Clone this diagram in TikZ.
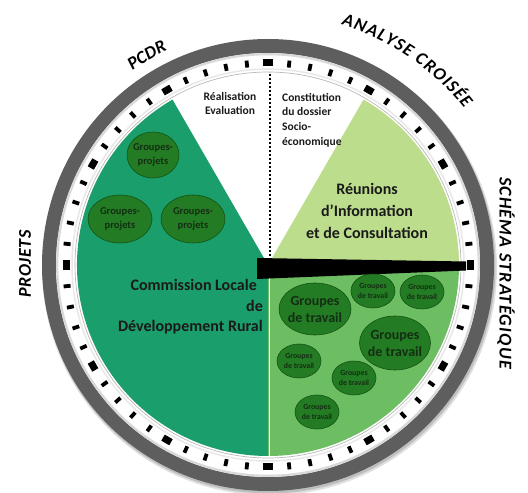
\documentclass[tikz,border=0pt]{standalone}
\usepackage{fontspec}
\setmainfont{Carlito}
\usetikzlibrary{shapes.geometric,decorations.text}
\definecolor{ringgray}{HTML}{5E5E5E}
\definecolor{dgreen}{HTML}{1A9E6B}
\definecolor{mgreen}{HTML}{6DBE62}
\definecolor{lgreen}{HTML}{BCDD8C}
\definecolor{egreen}{HTML}{237B23}
\definecolor{eedge}{HTML}{145214}
\definecolor{etext}{HTML}{142E14}
\definecolor{labtext}{HTML}{1A1A1A}
\begin{document}
\begin{tikzpicture}[x=1pt,y=1pt,
  outerlabel/.style={font=\fontsize{18}{20}\selectfont\bfseries\itshape, inner sep=0, text=black},
  innerlabel/.style={inner sep=0, text=labtext},
  blob/.style={ellipse, draw=eedge, line width=0.6, fill=egreen, inner sep=0},
  blobtext/.style={inner sep=0, align=center, text=etext},
  gptext/.style={blobtext, font=\fontsize{10.5}{14}\selectfont\bfseries},
  bigtext/.style={blobtext, font=\fontsize{14}{17}\selectfont\bfseries},
  smalltext/.style={blobtext, font=\fontsize{7.8}{10}\selectfont\bfseries},
  smallblob/.style={blob, minimum width=44, minimum height=34}
]
\useasboundingbox (0,0) rectangle (528,493);
\fill[white] (0,0) rectangle (528,493);
\coordinate (C) at (268,228);
% shadow and outer ring
\fill[black, opacity=0.12] (269.5,225) circle (227.5);
\fill[black, opacity=0.15] (269,226) circle (226.5);
\fill[ringgray] (C) circle (226);
\fill[white] (C) circle (212);
\draw[gray!30, line width=2.2] (C) circle (210.8);
\draw[gray!18, line width=1.5] (C) circle (196);
% ticks
\foreach \a in {0,30,...,330}{
  \fill[black, shift={(C)}, rotate=\a] (198.5,-4.6) rectangle (205.5,4.6);
  \foreach \b in {6,12,18,24}{
    \fill[black, shift={(C)}, rotate=\a+\b] (198.5,-1.9) rectangle (205.5,1.9);
  }
}
% sectors
\fill[dgreen, shift={(C)}] (0,0) -- (120:191) arc[start angle=120, end angle=270, radius=191] -- cycle;
\fill[mgreen, shift={(C)}] (0,0) -- (270:191) arc[start angle=270, end angle=360, radius=191] -- cycle;
\fill[lgreen, shift={(C)}] (0,0) -- (0:191) arc[start angle=0, end angle=60, radius=191] -- cycle;
\draw[gray!55, line width=0.7] (C) circle (193);
% separators
\coordinate (dotTop) at (270,421);
\coordinate (dotBot) at (270,229);
\draw[black, line width=1.6, dash pattern=on 1.8pt off 2.2pt] (dotBot) -- (dotTop);
\coordinate (sepTop) at (269.5,220);
\coordinate (sepBot) at (269.5,37);
\draw[white, line width=1.8] (sepTop) -- (sepBot);
% hand
\fill[black] (257,235) -- (466,231.5) -- (466,222.5) -- (257,214) -- cycle;
% outer labels
\path[shift={(C)}, decorate, decoration={text along path, text align=center,
  text={|\fontsize{18}{20}\selectfont\bfseries\itshape|PCDR}}]
  (127:237) arc[start angle=127, end angle=113, radius=237];
\path[shift={(C)}, decorate, decoration={text along path, text align=fit to path,
  text={|\fontsize{18}{20}\selectfont\bfseries\itshape|ANALYSE CROISÉE}}]
  (73:251) arc[start angle=73, end angle=38.5, radius=251];
\node[outerlabel, rotate=-90] (schema) at (506,220) {\addfontfeature{LetterSpace=7}SCHÉMA STRATÉGIQUE};
\node[outerlabel, rotate=90] (projets) at (25,229) {\addfontfeature{LetterSpace=4}PROJETS};
% inner labels
\node[innerlabel, font=\fontsize{11.5}{14}\selectfont\bfseries, align=center] (real) at (230,389) {Réalisation\\Evaluation};
\node[innerlabel, anchor=west, font=\fontsize{11.5}{14.7}\selectfont\bfseries, align=left] (const) at (282,373) {Constitution\\du dossier\\Socio-\\économique};
\node[innerlabel, font=\fontsize{16}{22}\selectfont\bfseries, align=center] (reunions) at (367,282) {Réunions\\d'Information\\et de Consultation};
\node[innerlabel, anchor=east, font=\fontsize{16}{20.5}\selectfont\bfseries, align=right] (cldr) at (263,186) {Commission Locale\hspace*{6pt}\\de\\Développement Rural};
% groupes-projets
\node[blob, minimum width=52, minimum height=46] (gp1) at (153,338) {};
\node[gptext] (gp1t) at (gp1) {Groupes-\\projets};
\node[blob, minimum width=64, minimum height=48] (gp2) at (120,274) {};
\node[gptext] (gp2t) at (gp2) {Groupes-\\projets};
\node[blob, minimum width=64, minimum height=48] (gp3) at (193,274) {};
\node[gptext] (gp3t) at (gp3) {Groupes-\\projets};
% groupes de travail
\node[blob, minimum width=72, minimum height=52] (gt1) at (315,184) {};
\node[bigtext] (gt1t) at (gt1) {Groupes\\de travail};
\node[blob, minimum width=71, minimum height=54] (gt2) at (395,150) {};
\node[bigtext] (gt2t) at (gt2) {Groupes\\de travail};
\node[smallblob] (gs1) at (373,202) {};
\node[smalltext] (gs1t) at (gs1) {Groupes\\de travail};
\node[smallblob] (gs2) at (422,201) {};
\node[smalltext] (gs2t) at (gs2) {Groupes\\de travail};
\node[smallblob] (gs3) at (299,132) {};
\node[smalltext] (gs3t) at (gs3) {Groupes\\de travail};
\node[smallblob] (gs4) at (354,115) {};
\node[smalltext] (gs4t) at (gs4) {Groupes\\de travail};
\node[smallblob] (gs5) at (317,81) {};
\node[smalltext] (gs5t) at (gs5) {Groupes\\de travail};
\end{tikzpicture}
\end{document}
